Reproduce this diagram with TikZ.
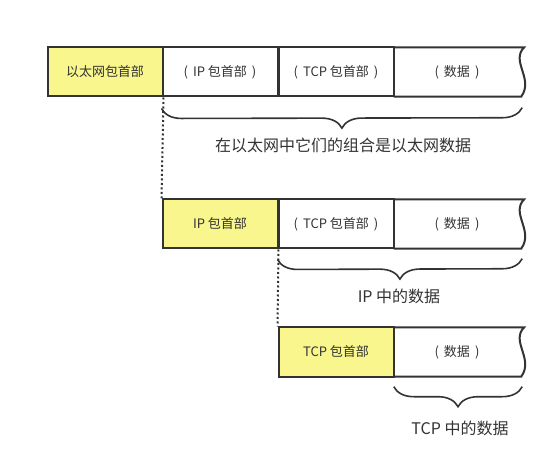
\documentclass[tikz,border=0pt]{standalone}
\usepackage{fontspec}
\setmainfont{Noto Sans CJK SC}
\usetikzlibrary{decorations.pathreplacing,calc}
\definecolor{hdryellow}{RGB}{248,246,140}
\definecolor{darkline}{RGB}{51,51,51}
\newcommand{\paren}[1]{(\hspace{5pt}#1\hspace{5pt})}

\begin{document}
\begin{tikzpicture}[
  x=1pt, y=-1pt,
  header/.style={
    draw=darkline,
    fill=hdryellow,
    line width=2pt,
    minimum width=115pt,
    minimum height=49pt,
    inner sep=0pt,
    font=\fontsize{13}{15}\selectfont,
    text=darkline
  },
  field/.style={
    header,
    fill=white
  },
  tail/.style={
    minimum width=126pt,
    minimum height=49pt,
    inner sep=0pt,
    font=\fontsize{13}{15}\selectfont,
    text=darkline
  },
  edge/.style={draw=darkline, line width=2pt},
  dots/.style={draw=darkline, line width=2pt, dash pattern=on 2pt off 2.5pt},
  brace/.style={draw=darkline, line width=1.6pt,
    decorate, decoration={brace, amplitude=20pt, mirror}},
  annot/.style={font=\fontsize{16}{18}\selectfont, text=darkline}
]
\useasboundingbox (0,0) rectangle (560,457);

% Ethernet frame
\node[header] (eth) at (105,72) {以太网包首部};
\node[field] (ip1) at (220,72) {\paren{IP 包首部}};
\node[field] (tcp1) at (336,72) {\paren{TCP 包首部}};
\node[tail] (data1) at (457,72) {\paren{数据}};
\draw[edge] (data1.north west) -- ($(data1.north east)+(4,0)$)
  .. controls ($(data1.north east)+(-10,14)$) and ($(data1.south east)+(14,-18)$) .. ($(data1.south east)+(1,0)$)
  -- (data1.south west);
\draw[brace] ($(ip1.south west)+(0,11)$) -- ($(data1.south east)+(2,11)$);
\node[annot] (lbl1) at (343,145) {在以太网中它们的组合是以太网数据};

% IP packet
\node[header] (ip2) at (220,224) {IP 包首部};
\node[field] (tcp2) at (336,224) {\paren{TCP 包首部}};
\node[tail] (data2) at (457,224) {\paren{数据}};
\draw[edge] (data2.north west) -- ($(data2.north east)+(4,0)$)
  .. controls ($(data2.north east)+(-10,14)$) and ($(data2.south east)+(14,-18)$) .. ($(data2.south east)+(1,0)$)
  -- (data2.south west);
\draw[brace] ($(tcp2.south west)+(0,10)$) -- ($(data2.south east)+(2,10)$);
\node[annot] (lbl2) at (399,296) {IP 中的数据};
\draw[dots] (eth.south east) -- (ip2.north west);

% TCP segment
\node[header] (tcp3) at (336,352) {TCP 包首部};
\node[tail] (data3) at (457,352) {\paren{数据}};
\draw[edge] (data3.north west) -- ($(data3.north east)+(4,0)$)
  .. controls ($(data3.north east)+(-10,14)$) and ($(data3.south east)+(14,-18)$) .. ($(data3.south east)+(1,0)$)
  -- (data3.south west);
\draw[brace] ($(data3.south west)+(0,10)$) -- ($(data3.south east)+(2,10)$);
\node[annot] (lbl3) at (460,428) {TCP 中的数据};
\draw[dots] (ip2.south east) -- (tcp3.north west);

\end{tikzpicture}
\end{document}
